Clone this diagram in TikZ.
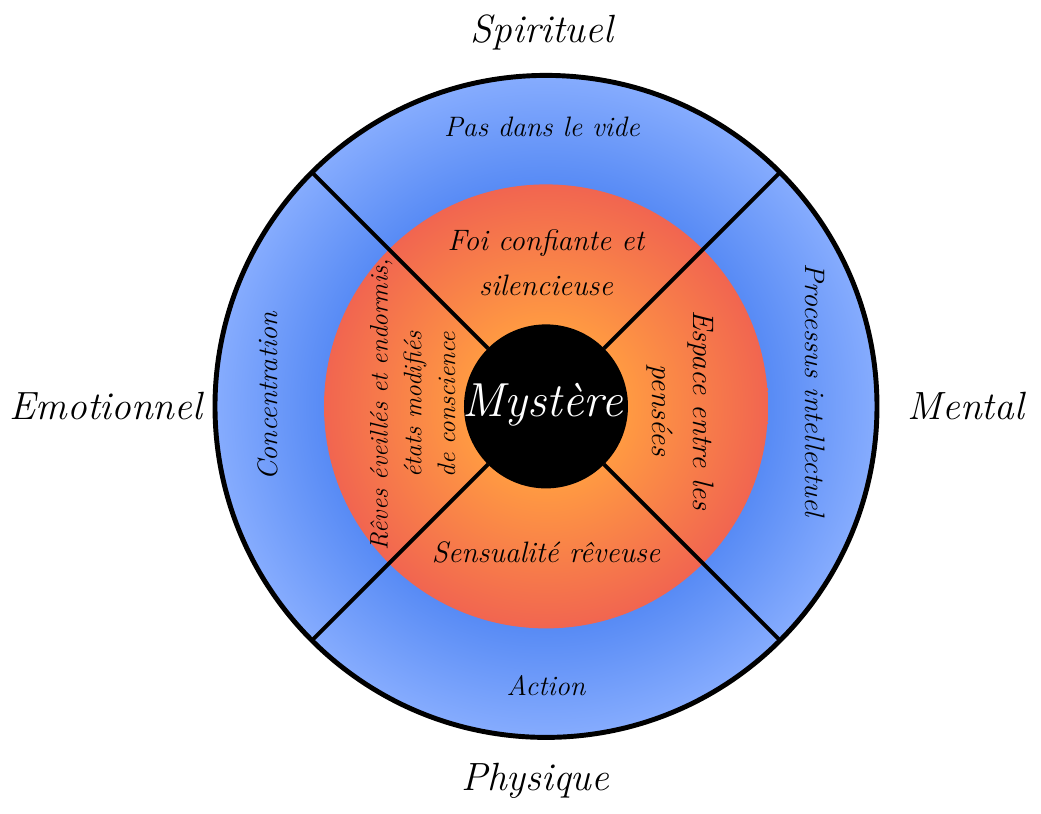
\documentclass[tikz,border=0pt]{standalone}
\usepackage{fontspec}
\usepackage{tikz}

\definecolor{ringblue}{RGB}{88,139,245}
\definecolor{rimblue}{RGB}{134,172,254}
\definecolor{coreorange}{RGB}{255,154,66}
\definecolor{rimorange}{RGB}{241,101,80}

\pgfdeclareradialshading{bluering}{\pgfpoint{0bp}{0bp}}{color(0bp)=(ringblue); color(16.8bp)=(ringblue); color(25bp)=(rimblue); color(50bp)=(rimblue)}
\pgfdeclareradialshading{orangedisc}{\pgfpoint{0bp}{0bp}}{color(0bp)=(coreorange); color(9bp)=(coreorange); color(25bp)=(rimorange); color(50bp)=(rimorange)}

\tikzset{
    disc/.style={circle, inner sep=0pt, outer sep=0pt},
    divider/.style={line width=2.8pt},
    ringlabel/.style={font=\fontsize{20}{24}\selectfont\itshape, align=center},
    innerlabel/.style={font=\fontsize{21}{32}\selectfont\itshape, align=center},
    planelabel/.style={font=\fontsize{28}{30}\selectfont\itshape}
}

\begin{document}
\begin{tikzpicture}
        \useasboundingbox (-13.65,-10.19) rectangle (12.375,10.16);

        % Discs
        \node[disc, draw, line width=3.5pt, shading=bluering, minimum size=16.55cm] (outer) at (0,0) {};
        \node[disc, shading=orangedisc, minimum size=11.1cm] (middle) at (0,0) {};
        \node[disc, fill=black, minimum size=4.1cm] (core) at (0,0) {};

        % Dividers
        \foreach \a in {45,135,225,315}
            \draw[divider] (core.\a) -- (outer.\a);

        % Outer ring
        \node[ringlabel] (void) at (-0.1,6.98) {Pas dans le vide};
        \node[ringlabel] (action) at (0,-6.98) {Action};
        \node[ringlabel, rotate=90] (focus) at (-6.95,0.25) {Concentration};
        \node[ringlabel, rotate=-90] (intellect) at (6.73,0.4) {Processus intellectuel};

        % Inner ring
        \node[innerlabel] (faith) at (0,3.58) {Foi confiante et\\silencieuse};
        \node[innerlabel] (sensual) at (0,-3.65) {Sensualité rêveuse};
        \node[innerlabel, font=\fontsize{21}{29}\selectfont\itshape, rotate=-90] (space) at (3.35,-0.1) {Espace entre les\\pensées};
        \node[innerlabel, font=\fontsize{18}{24}\selectfont\itshape, rotate=90] (dreams) at (-3.33,0.05) {Rêves éveillés et endormis,\\états modifiés\\de conscience};

        % Centre
        \node[planelabel, font=\fontsize{34}{36}\selectfont\itshape, text=white] (mystery) at (-0.08,0.05) {Mystère};

        % Planes
        \node[planelabel] (spiritual) at (-0.1,9.35) {Spirituel};
        \node[planelabel] (physical) at (-0.27,-9.35) {Physique};
        \node[planelabel] (mental) at (10.5,0) {Mental};
        \node[planelabel] (emotional) at (-11,0) {Emotionnel};
    \end{tikzpicture}
\end{document}
